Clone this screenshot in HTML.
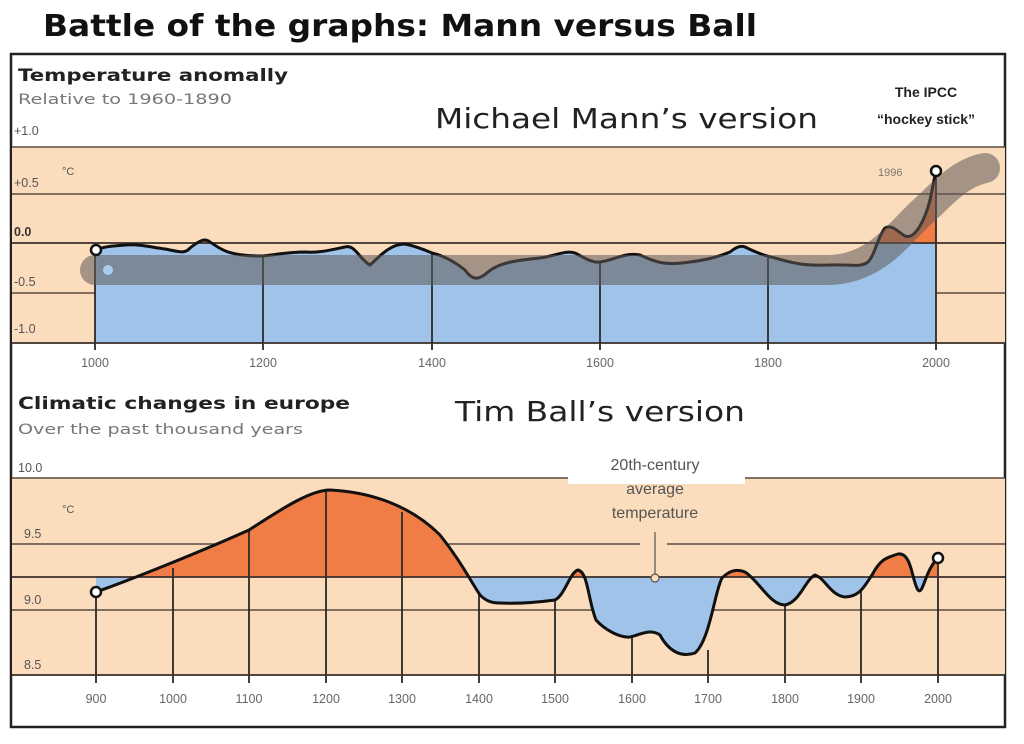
<!DOCTYPE html>
<html><head><meta charset="utf-8"><style>
html,body{margin:0;padding:0;background:#fff;}
svg{display:block;}
</style></head><body>
<svg width="1024" height="744" viewBox="0 0 1024 744" xmlns="http://www.w3.org/2000/svg" font-family="Liberation Sans, sans-serif">
<defs>
<clipPath id="tAbove"><rect x="0" y="0" width="1024" height="243"/></clipPath>
<clipPath id="tBelow"><rect x="0" y="243" width="1024" height="200"/></clipPath>
<clipPath id="bAbove"><rect x="0" y="0" width="1024" height="577"/></clipPath>
<clipPath id="bBelow"><rect x="0" y="577" width="1024" height="200"/></clipPath>
</defs>
<rect width="1024" height="744" fill="#fff"/>
<text x="43" y="36" font-family="DejaVu Sans, sans-serif" font-weight="bold" font-size="30" fill="#111" textLength="714" lengthAdjust="spacingAndGlyphs">Battle of the graphs: Mann versus Ball</text>
<rect x="11" y="54" width="994" height="673" fill="#fff" stroke="#222" stroke-width="2.5"/>

<rect x="12" y="147" width="993" height="196" fill="#fbdcbc"/>
<g stroke="#5a4a40" stroke-width="1.5">
<line x1="12" y1="147" x2="1005" y2="147"/><line x1="12" y1="194" x2="1005" y2="194"/>
<line x1="12" y1="293" x2="1005" y2="293"/>
</g>
<path clip-path="url(#tBelow)" fill="#9fc3e9" d="M95,250 C105,246 115,246 125,245 C140,244 150,247 165,249 C180,252 185,254 190,248 C200,240 205,238 210,242 C220,248 225,256 263,256 C280,254 290,252 305,252 C320,253 330,250 345,247 C355,244 360,260 370,265 C380,256 390,244 405,244 C415,246 425,250 432,253 C445,256 455,262 465,270 C472,280 478,281 488,272 C500,262 520,260 540,258 C555,256 565,250 575,253 C585,258 592,263 600,262 C615,260 625,252 640,255 C655,262 665,266 690,262 C705,260 715,258 730,252 C735,248 740,245 745,247 C755,252 765,256 775,258 C790,262 800,266 830,265 C850,264 860,268 868,262 C875,255 878,236 885,228 C892,224 898,232 905,236 C915,240 925,220 930,200 C933,185 935,175 936,171 L936,343 L95,343 Z"/>
<path clip-path="url(#tAbove)" fill="#ef7d45" d="M95,250 C105,246 115,246 125,245 C140,244 150,247 165,249 C180,252 185,254 190,248 C200,240 205,238 210,242 C220,248 225,256 263,256 C280,254 290,252 305,252 C320,253 330,250 345,247 C355,244 360,260 370,265 C380,256 390,244 405,244 C415,246 425,250 432,253 C445,256 455,262 465,270 C472,280 478,281 488,272 C500,262 520,260 540,258 C555,256 565,250 575,253 C585,258 592,263 600,262 C615,260 625,252 640,255 C655,262 665,266 690,262 C705,260 715,258 730,252 C735,248 740,245 745,247 C755,252 765,256 775,258 C790,262 800,266 830,265 C850,264 860,268 868,262 C875,255 878,236 885,228 C892,224 898,232 905,236 C915,240 925,220 930,200 C933,185 935,175 936,171 L936,243 L95,243 Z"/>
<g stroke="#2a2a2a" stroke-width="1.8">
<line x1="95" y1="250" x2="95" y2="350"/><line x1="263" y1="256" x2="263" y2="350"/>
<line x1="432" y1="253" x2="432" y2="350"/><line x1="600" y1="262" x2="600" y2="350"/>
<line x1="768" y1="258" x2="768" y2="350"/><line x1="936" y1="171" x2="936" y2="350"/>
</g>
<line x1="12" y1="243" x2="1005" y2="243" stroke="#3a2e28" stroke-width="1.8"/>
<line x1="12" y1="343" x2="1005" y2="343" stroke="#3a2e28" stroke-width="1.8"/>
<path d="M95,250 C105,246 115,246 125,245 C140,244 150,247 165,249 C180,252 185,254 190,248 C200,240 205,238 210,242 C220,248 225,256 263,256 C280,254 290,252 305,252 C320,253 330,250 345,247 C355,244 360,260 370,265 C380,256 390,244 405,244 C415,246 425,250 432,253 C445,256 455,262 465,270 C472,280 478,281 488,272 C500,262 520,260 540,258 C555,256 565,250 575,253 C585,258 592,263 600,262 C615,260 625,252 640,255 C655,262 665,266 690,262 C705,260 715,258 730,252 C735,248 740,245 745,247 C755,252 765,256 775,258 C790,262 800,266 830,265 C850,264 860,268 868,262 C875,255 878,236 885,228 C892,224 898,232 905,236 C915,240 925,220 930,200 C933,185 935,175 936,171" fill="none" stroke="#111" stroke-width="3"/>
<path d="M95,270 L830,270 C880,268 900,230 930,205 C950,185 965,172 985,168" fill="none" stroke="rgba(95,90,88,0.55)" stroke-width="30" stroke-linecap="round" stroke-linejoin="round"/>
<circle cx="108" cy="270" r="5" fill="#a9cdf0"/>
<circle cx="96" cy="250" r="5" fill="#fff" stroke="#111" stroke-width="2.5"/>
<circle cx="936" cy="171" r="5" fill="#fff" stroke="#111" stroke-width="2.5"/>
<text x="878" y="176" font-size="11" fill="#777">1996</text>
<g font-family="DejaVu Sans, sans-serif">
<text x="18" y="81" font-size="17" font-weight="bold" fill="#222" textLength="270" lengthAdjust="spacingAndGlyphs">Temperature anomally</text>
<text x="18" y="104" font-size="14" fill="#777" textLength="214" lengthAdjust="spacingAndGlyphs">Relative to 1960-1890</text>
<text x="435" y="128" font-size="28" fill="#222" textLength="383" lengthAdjust="spacingAndGlyphs">Michael Mann’s version</text>
<text x="18" y="409" font-size="17" font-weight="bold" fill="#222" textLength="332" lengthAdjust="spacingAndGlyphs">Climatic changes in europe</text>
<text x="18" y="434" font-size="14" fill="#777" textLength="285" lengthAdjust="spacingAndGlyphs">Over the past thousand years</text>
<text x="455" y="421" font-size="28" fill="#222" textLength="290" lengthAdjust="spacingAndGlyphs">Tim Ball’s version</text>
</g>
<g font-size="12.5" fill="#555">
<text x="14" y="135">+1.0</text><text x="14" y="187">+0.5</text><text x="14" y="236" font-weight="bold" fill="#333">0.0</text>
<text x="14" y="286">-0.5</text><text x="14" y="333">-1.0</text>
<text x="62" y="175" font-size="11">°C</text>
</g>
<text x="926" y="97" font-size="14" font-weight="bold" fill="#222" text-anchor="middle">The IPCC</text>
<text x="926" y="124" font-size="14" font-weight="bold" fill="#222" text-anchor="middle">“hockey stick”</text>
<g font-size="12.5" fill="#666" text-anchor="middle">
<text x="95" y="367">1000</text><text x="263" y="367">1200</text><text x="432" y="367">1400</text>
<text x="600" y="367">1600</text><text x="768" y="367">1800</text><text x="936" y="367">2000</text>
</g>

<rect x="12" y="478" width="993" height="197" fill="#fbdcbc"/>
<g stroke="#5a4a40" stroke-width="1.5">
<line x1="12" y1="478" x2="568" y2="478"/><line x1="745" y1="478" x2="1005" y2="478"/>
<line x1="12" y1="544" x2="640" y2="544"/><line x1="667" y1="544" x2="1005" y2="544"/>
<line x1="12" y1="610" x2="1005" y2="610"/>
</g>
<rect x="568" y="470" width="177" height="14" fill="#fff"/>
<path clip-path="url(#bAbove)" fill="#ef7d45" d="M96,592 C130,580 200,552 249,530 C280,510 310,490 330,490 C370,492 410,505 440,535 C460,560 470,580 480,595 C485,600 490,603 500,603 C520,604 540,602 555,600 C565,595 570,572 578,570 C588,572 588,600 596,620 C605,630 620,638 630,637 C640,635 650,628 660,635 C668,650 680,658 695,653 C710,640 715,590 722,578 C728,572 735,568 745,572 C760,582 770,605 785,605 C800,602 805,580 815,575 C825,578 830,595 845,597 C860,597 865,585 872,575 C880,560 885,558 898,554 C912,552 912,582 918,590 C923,596 925,570 938,558 L938,577 L96,577 Z"/>
<path clip-path="url(#bBelow)" fill="#9fc3e9" d="M96,592 C130,580 200,552 249,530 C280,510 310,490 330,490 C370,492 410,505 440,535 C460,560 470,580 480,595 C485,600 490,603 500,603 C520,604 540,602 555,600 C565,595 570,572 578,570 C588,572 588,600 596,620 C605,630 620,638 630,637 C640,635 650,628 660,635 C668,650 680,658 695,653 C710,640 715,590 722,578 C728,572 735,568 745,572 C760,582 770,605 785,605 C800,602 805,580 815,575 C825,578 830,595 845,597 C860,597 865,585 872,575 C880,560 885,558 898,554 C912,552 912,582 918,590 C923,596 925,570 938,558 L938,577 L96,577 Z"/>
<g stroke="#2a2a2a" stroke-width="1.8">
<line x1="96" y1="592" x2="96" y2="683"/><line x1="173" y1="568" x2="173" y2="683"/>
<line x1="249" y1="530" x2="249" y2="683"/><line x1="326" y1="490" x2="326" y2="683"/>
<line x1="402" y1="512" x2="402" y2="683"/><line x1="479" y1="594" x2="479" y2="683"/>
<line x1="555" y1="600" x2="555" y2="683"/><line x1="632" y1="636" x2="632" y2="683"/>
<line x1="708" y1="650" x2="708" y2="683"/><line x1="785" y1="605" x2="785" y2="683"/>
<line x1="861" y1="590" x2="861" y2="683"/><line x1="938" y1="558" x2="938" y2="683"/>
</g>
<line x1="12" y1="577" x2="1005" y2="577" stroke="#3a2e28" stroke-width="1.8"/>
<line x1="12" y1="675" x2="1005" y2="675" stroke="#3a2e28" stroke-width="1.8"/>
<path d="M96,592 C130,580 200,552 249,530 C280,510 310,490 330,490 C370,492 410,505 440,535 C460,560 470,580 480,595 C485,600 490,603 500,603 C520,604 540,602 555,600 C565,595 570,572 578,570 C588,572 588,600 596,620 C605,630 620,638 630,637 C640,635 650,628 660,635 C668,650 680,658 695,653 C710,640 715,590 722,578 C728,572 735,568 745,572 C760,582 770,605 785,605 C800,602 805,580 815,575 C825,578 830,595 845,597 C860,597 865,585 872,575 C880,560 885,558 898,554 C912,552 912,582 918,590 C923,596 925,570 938,558" fill="none" stroke="#111" stroke-width="3"/>
<line x1="655" y1="532" x2="655" y2="576" stroke="#555" stroke-width="1.2"/>
<circle cx="655" cy="578" r="4" fill="#fbdcbc" stroke="#555" stroke-width="1.2"/>
<circle cx="96" cy="592" r="5" fill="#fff" stroke="#111" stroke-width="2.5"/>
<circle cx="938" cy="558" r="5" fill="#fff" stroke="#111" stroke-width="2.5"/>
<g font-size="16" fill="#555" text-anchor="middle">
<text x="655" y="470">20th-century</text><text x="655" y="494">average</text><text x="655" y="518">temperature</text>
</g>
<g font-size="12.5" fill="#555">
<text x="18" y="472">10.0</text><text x="24" y="538">9.5</text><text x="24" y="604">9.0</text><text x="24" y="669">8.5</text>
<text x="62" y="513" font-size="11">°C</text>
</g>
<g font-size="12.5" fill="#666" text-anchor="middle">
<text x="96" y="703">900</text><text x="173" y="703">1000</text><text x="249" y="703">1100</text>
<text x="326" y="703">1200</text><text x="402" y="703">1300</text><text x="479" y="703">1400</text>
<text x="555" y="703">1500</text><text x="632" y="703">1600</text><text x="708" y="703">1700</text>
<text x="785" y="703">1800</text><text x="861" y="703">1900</text><text x="938" y="703">2000</text>
</g>
</svg>
</body></html>
